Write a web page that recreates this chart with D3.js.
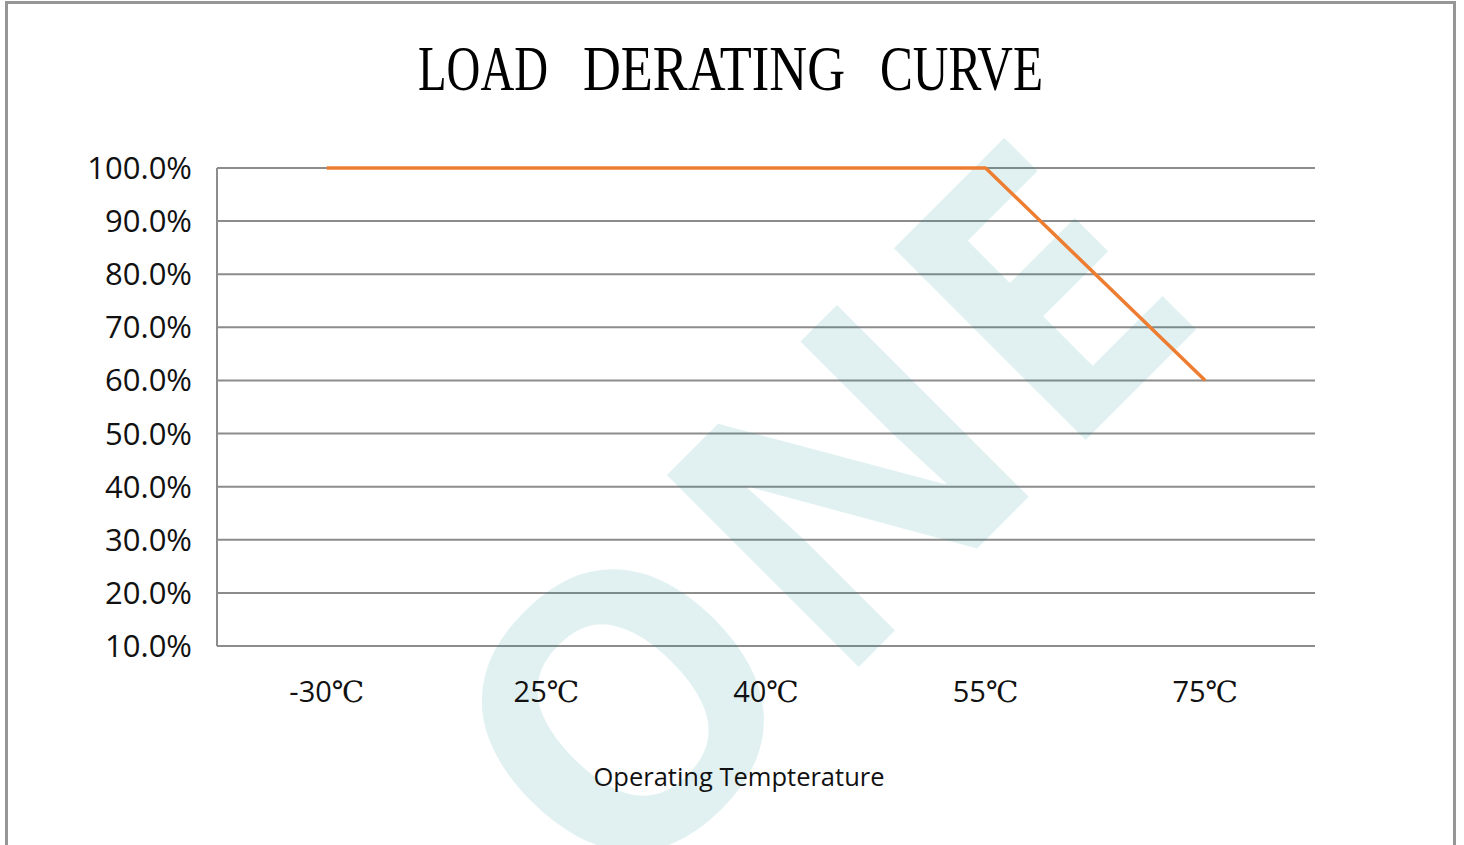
<!DOCTYPE html>
<html>
<head>
<meta charset="utf-8">
<script src="https://cdn.jsdelivr.net/npm/d3@7"></script>
<style>
  html, body { margin: 0; padding: 0; background: #fff; }
  svg { display: block; }
</style>
</head>
<body>
<svg width="1464" height="845"></svg>
<script>
(function () {

    // chart data
    var temps = ["-30", "25", "40", "55", "75"];
    var load = [100, 100, 100, 100, 60];
    var yTicks = [10, 20, 30, 40, 50, 60, 70, 80, 90, 100];
    var titleWords = ["LOAD", "DERATING", "CURVE"];

    var svg = d3.select("svg"),
        width = +svg.attr("width"),
        height = +svg.attr("height");

    var margin = {left: 217, right: 149, top: 168, bottom: 199};

    // frame
    svg.append("rect")
        .attr("x", 6.5).attr("y", 2.5)
        .attr("width", 1448).attr("height", 860)
        .attr("fill", "none")
        .attr("stroke", "#969696")
        .attr("stroke-width", 3);

    var x = d3.scaleBand()
        .domain(temps)
        .range([margin.left, width - margin.right]);

    var y = d3.scaleLinear()
        .domain([10, 100])
        .range([height - margin.bottom, margin.top]);

    // gridlines
    svg.append("g")
        .selectAll("line")
        .data(yTicks)
        .enter().append("line")
        .attr("x1", margin.left)
        .attr("x2", width - margin.right)
        .attr("y1", d => y(d))
        .attr("y2", d => y(d))
        .attr("stroke", "#8c8c8c")
        .attr("stroke-width", 2);

    // left axis line
    svg.append("line")
        .attr("x1", margin.left).attr("x2", margin.left)
        .attr("y1", y(100)).attr("y2", y(10))
        .attr("stroke", "#8c8c8c")
        .attr("stroke-width", 2);

    // watermark (sits over the grid, under line and labels)
    svg.append("text")
        .attr("transform", "translate(812,505) rotate(-45)")
        .attr("text-anchor", "middle")
        .attr("dominant-baseline", "central")
        .attr("font-family", "'Open Sans', sans-serif")
        .attr("font-weight", 700)
        .attr("font-size", 380)
        .attr("letter-spacing", 12)
        .attr("fill", "#0a8c8c")
        .attr("fill-opacity", 0.12)
        .text("ONE");

    // y labels
    svg.append("g")
        .selectAll("text")
        .data(yTicks)
        .enter().append("text")
        .attr("x", 192)
        .attr("y", d => y(d) + 11)
        .attr("text-anchor", "end")
        .attr("font-family", "'Open Sans', sans-serif")
        .attr("font-size", 31)
        .attr("fill", "#111")
        .text(d => d3.format(".1f")(d) + "%");

    // x labels
    var xl = svg.append("g")
        .selectAll("text")
        .data(temps)
        .enter().append("text")
        .attr("x", d => x(d) + x.bandwidth() / 2)
        .attr("y", 702)
        .attr("text-anchor", "middle")
        .attr("font-family", "'Open Sans', sans-serif")
        .attr("font-size", 29)
        .attr("fill", "#111");
    xl.append("tspan").text(d => d);
    xl.append("tspan")
        .attr("font-family", "'DejaVu Serif', serif")
        .attr("font-size", 29)
        .text("\u2103");

    // axis title
    svg.append("text")
        .attr("x", 739)
        .attr("y", 786)
        .attr("text-anchor", "middle")
        .attr("font-family", "'Open Sans', sans-serif")
        .attr("font-size", 25.5)
        .attr("fill", "#111")
        .text("Operating Tempterature");

    // chart title, one element per word so the gaps stay wide
    var wordX = [418, 583, 880],
        wordW = [130, 262, 163];
    svg.append("g")
        .selectAll("text")
        .data(titleWords)
        .enter().append("text")
        .attr("x", (d, i) => wordX[i])
        .attr("y", 90)
        .attr("font-family", "'Liberation Serif', serif")
        .attr("font-size", 63)
        .attr("textLength", (d, i) => wordW[i])
        .attr("lengthAdjust", "spacingAndGlyphs")
        .attr("fill", "#000")
        .text(d => d);

    // line
    var line = d3.line()
        .x((d, i) => x(temps[i]) + x.bandwidth() / 2)
        .y(d => y(d));

    svg.append("path")
        .datum(load)
        .attr("d", line)
        .attr("fill", "none")
        .attr("stroke", "#ed7d31")
        .attr("stroke-width", 3.5)
        .attr("stroke-linejoin", "round");

})();
</script>
</body>
</html>
